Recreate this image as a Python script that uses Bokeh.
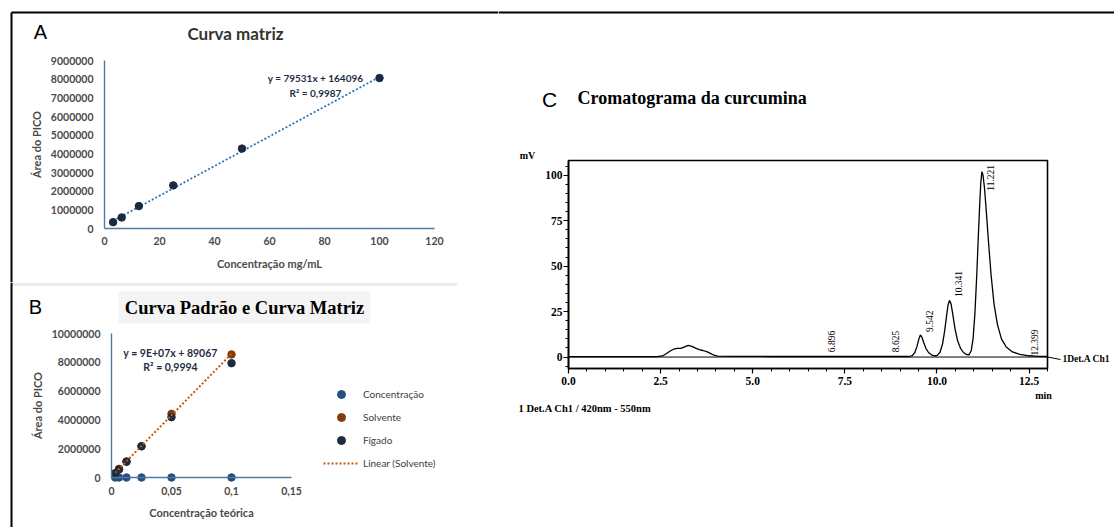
from math import pi
import numpy as np
from bokeh.plotting import figure
from bokeh.models import (Range1d, FixedTicker, Label, Legend, LegendItem, Arrow, BoxAnnotation,
                          NumeralTickFormatter, PrintfTickFormatter)
from bokeh.layouts import row, column
from bokeh.embed import file_html
from bokeh.resources import INLINE
from bokeh.core.properties import value

# ---------------- data: panel A (Curva matriz) ----------------
a_conc = [3.125, 6.25, 12.5, 25, 50, 100]
a_area = [340000, 590000, 1200000, 2310000, 4280000, 8060000]
a_slope = 79531
a_intercept = 164096
a_eq_text = "y = 79531x + 164096"
a_r2_text = "R² = 0,9987"
a_x_ticks = [0, 20, 40, 60, 80, 100, 120]
a_y_ticks = [0, 1000000, 2000000, 3000000, 4000000, 5000000, 6000000, 7000000, 8000000, 9000000]

# ---------------- data: panel B (Curva padrão e curva matriz) ----------------
b_conc = [0.003125, 0.00625, 0.0125, 0.025, 0.05, 0.1]
b_concentracao = [0.003125, 0.00625, 0.0125, 0.025, 0.05, 0.1]
b_solvente = [300000, 600000, 1110000, 2170000, 4420000, 8550000]
b_figado = [280000, 560000, 1100000, 2170000, 4190000, 7940000]
b_eq_text = "y = 9E+07x + 89067"
b_r2_text = "R² = 0,9994"
b_x_ticks = [0, 0.05, 0.1, 0.15]
b_x_labels = ["0", "0,05", "0,1", "0,15"]
b_y_ticks = [0, 2000000, 4000000, 6000000, 8000000, 10000000]
b_series_names = ["Concentração", "Solvente", "Fígado", "Linear (Solvente)"]

# ---------------- data: panel C (cromatograma) ----------------
c_time = [0.0, 2.40, 2.55, 2.65, 2.75, 2.85, 2.95, 3.05, 3.15, 3.25, 3.35, 3.45, 3.55,
          3.65, 3.75, 3.85, 3.95, 4.05, 4.50, 5.50, 6.50, 7.50, 8.50, 9.25, 9.33, 9.40,
          9.46, 9.51, 9.55, 9.59, 9.64, 9.70, 9.77, 9.85, 9.93, 10.00, 10.08, 10.15,
          10.21, 10.26, 10.30, 10.34, 10.38, 10.43, 10.49, 10.56, 10.64, 10.72, 10.80,
          10.87, 10.93, 10.98, 11.03, 11.08, 11.12, 11.16, 11.19, 11.22, 11.25, 11.29,
          11.34, 11.40, 11.47, 11.55, 11.64, 11.75, 11.88, 12.05, 12.25, 12.50, 12.75, 13.0]
c_signal = [0.2, 0.2, 0.6, 1.8, 3.2, 4.3, 4.8, 4.8, 5.6, 6.4, 5.9, 4.9, 4.1,
            3.6, 3.0, 2.0, 1.0, 0.5, 0.4, 0.3, 0.3, 0.3, 0.3, 0.3, 0.8, 2.5,
            6.0, 10.0, 12.2, 11.0, 8.0, 4.8, 2.5, 1.2, 0.7, 0.8, 2.5, 7.0,
            14.5, 22.5, 28.5, 31.2, 29.5, 23.5, 15.5, 9.0, 4.8, 2.5, 1.4,
            1.2, 3.5, 10.0, 24.0, 45.0, 65.0, 84.0, 96.0, 102.0, 100.0, 93.0,
            80.0, 63.0, 45.0, 29.0, 18.0, 10.0, 5.5, 2.8, 1.5, 0.7, 0.4, 0.3]
c_baseline_time = [0.0, 13.0]
c_baseline_signal = [0.0, 0.0]
c_peak_rt = [6.896, 8.625, 9.542, 10.341, 11.221, 12.399]
c_peak_labels = ["6.896", "8.625", "9.542", "10.341", "11.221", "12.399"]
c_peak_label_y = [2.7, 2.7, 13.8, 33.0, 91.5, 0.8]
c_x_ticks = [0, 2.5, 5.0, 7.5, 10.0, 12.5]
c_x_minor = [0.5 * i for i in range(27)]
c_y_ticks = [0, 25, 50, 75, 100]
c_y_minor = [5 * i for i in range(-1, 22)]
c_x_limits = (0.0, 13.0)
c_y_limits = (-6.3, 108.1)


# ---------------- helpers ----------------
def make_fig(canvas, frame, xlim, ylim):
    """Figure whose drawing area is the whole canvas; the data box (xlim, ylim)
    is placed at page pixels `frame` = (L, R, T, B)."""
    cx0, cx1, cy0, cy1 = canvas
    L, R, T, B = frame
    x0, x1 = xlim
    y0, y1 = ylim
    xs = (x1 - x0) / (R - L)
    ys = (y1 - y0) / (B - T)
    p = figure(width=cx1 - cx0, height=cy1 - cy0,
               x_range=Range1d(x0 - (L - cx0) * xs, x1 + (cx1 - R) * xs),
               y_range=Range1d(y0 - (cy1 - B) * ys, y1 + (T - cy0) * ys),
               output_backend="svg", toolbar_location=None,
               min_border_left=0, min_border_right=0, min_border_top=0, min_border_bottom=0)
    p.outline_line_color = None
    p.xgrid.grid_line_color = None
    p.ygrid.grid_line_color = None
    p.xaxis.fixed_location = y0
    p.xaxis.bounds = (x0, x1)
    p.yaxis.fixed_location = x0
    p.yaxis.bounds = (y0, y1)

    def f(px, py):
        return x0 + (px - L) * xs, y0 + (B - py) * ys
    return p, f


def add_text(p, f, px, py, text, size, font, color, style="normal", align="center", **kw):
    x, y = f(px, py)
    p.add_layout(Label(x=x, y=y, text=text, text_align=align, text_baseline="middle",
                       text_font=font, text_font_size=size, text_color=color,
                       text_font_style=style, **kw))


def add_seg(p, f, px0, py0, px1, py1, color="black", width=2):
    x0, y0 = f(px0, py0)
    x1, y1 = f(px1, py1)
    p.add_layout(Arrow(end=None, x_start=x0, y_start=y0, x_end=x1, y_end=y1,
                       line_color=color, line_width=width))


def excel_axes(p, axis_color="#4f7aa3"):
    for ax in (p.xaxis[0], p.yaxis[0]):
        ax.axis_line_color = axis_color
        ax.axis_line_width = 1.4
        ax.major_tick_line_color = None
        ax.minor_tick_line_color = None
        ax.major_tick_out = 0
        ax.major_tick_in = 0
        ax.major_label_text_font = "Lato"
        ax.major_label_text_font_style = "bold"
        ax.major_label_text_font_size = "10.5px"
        ax.major_label_text_color = "#4a4a4a"
        ax.axis_label_text_font = "Lato"
        ax.axis_label_text_font_style = "bold"
        ax.axis_label_text_font_size = "11px"
        ax.axis_label_text_color = "#4a4a4a"


NAVY = "#1f2d44"

# ================= Panel A =================
pA, fA = make_fig((0, 498, 0, 282), (104, 434, 60, 228), (0, 120), (0, 9000000))
excel_axes(pA)
pA.xaxis.ticker = FixedTicker(ticks=a_x_ticks)
pA.yaxis.ticker = FixedTicker(ticks=a_y_ticks)
pA.yaxis.formatter = NumeralTickFormatter(format="0")
pA.xaxis.axis_label = "Concentração mg/mL"
pA.yaxis.axis_label = "Área do PICO"
pA.xaxis.major_label_standoff = 8
pA.xaxis.axis_label_standoff = 9
pA.yaxis.major_label_standoff = 11
pA.yaxis.axis_label_standoff = 5

a_fit_x = [min(a_conc), max(a_conc)]
a_fit_y = [a_slope * x + a_intercept for x in a_fit_x]
pA.line(a_fit_x, a_fit_y, line_color="#2e75b6", line_width=1.8, line_dash="2 2")
pA.scatter(a_conc, a_area, size=7.5, fill_color="#1b2a41", line_color="#1b2a41")

add_text(pA, fA, 40, 31, "A", "20px", "Liberation Sans", "black")
add_text(pA, fA, 235, 33, "Curva matriz", "17px", "Lato", "#333333", style="bold")
add_text(pA, fA, 315, 77.5, a_eq_text, "10px", "Lato", NAVY, style="bold")
add_text(pA, fA, 315, 92, a_r2_text, "10px", "Lato", NAVY, style="bold")
add_seg(pA, fA, 11, 12, 498, 12)
add_seg(pA, fA, 11, 12, 11, 282)

# ================= Panel B =================
pB, fB = make_fig((0, 498, 282, 527), (111, 291, 333, 477), (0, 0.15), (0, 10000000))
excel_axes(pB)
pB.xaxis.ticker = FixedTicker(ticks=b_x_ticks)
pB.xaxis.major_label_overrides = {t: s for t, s in zip(b_x_ticks, b_x_labels)}
pB.yaxis.ticker = FixedTicker(ticks=b_y_ticks)
pB.yaxis.formatter = NumeralTickFormatter(format="0")
pB.xaxis.axis_label = "Concentração teórica"
pB.yaxis.axis_label = "Área do PICO"
pB.xaxis.major_label_standoff = 9
pB.xaxis.axis_label_standoff = 8
pB.yaxis.major_label_standoff = 11
pB.yaxis.axis_label_standoff = 5

rc = pB.scatter(b_conc, b_concentracao, size=7.5, fill_color="#264d7e", line_color="#264d7e")
rs = pB.scatter(b_conc, b_solvente, size=7.5, fill_color="#843c0c", line_color="#843c0c")
rf = pB.scatter(b_conc, b_figado, size=7.5, fill_color="#1c2b3d", line_color="#1c2b3d")
b_slope, b_intercept = np.polyfit(b_conc, b_solvente, 1)
b_fit_x = [min(b_conc), max(b_conc)]
b_fit_y = [b_slope * x + b_intercept for x in b_fit_x]
rl = pB.line(b_fit_x, b_fit_y, line_color="#c55a11", line_width=2, line_dash="2 2")

legB = Legend(items=[LegendItem(label=b_series_names[0], renderers=[rc]),
                     LegendItem(label=b_series_names[1], renderers=[rs]),
                     LegendItem(label=b_series_names[2], renderers=[rf]),
                     LegendItem(label=b_series_names[3], renderers=[rl])],
              location=(323, 54), glyph_width=36, glyph_height=20, label_height=20,
              spacing=3, label_standoff=4, padding=0, margin=0,
              border_line_color=None, background_fill_alpha=0,
              label_text_font="Lato", label_text_font_size="10px",
              label_text_color="#404040")
pB.add_layout(legB)

add_seg(pB, fB, 11, 284, 457, 284, color="#ececec", width=3)
add_seg(pB, fB, 11, 282, 11, 527)
add_text(pB, fB, 35, 306, "B", "20px", "Liberation Sans", "black")
add_text(pB, fB, 244, 307, "Curva Padrão e Curva Matriz", "18.5px", "Liberation Serif",
         "black", style="bold", background_fill_color="#f4f4f4", padding=6)
add_text(pB, fB, 170, 352.5, b_eq_text, "10.5px", "Lato", NAVY, style="bold")
add_text(pB, fB, 170, 366.5, b_r2_text, "10.5px", "Lato", NAVY, style="bold")

# ================= Panel C =================
pC, fC = make_fig((498, 1114, 0, 527), (568, 1047, 160, 368), c_x_limits, c_y_limits)
for ax in (pC.xaxis[0], pC.yaxis[0]):
    ax.axis_line_color = "black"
    ax.axis_line_width = 1.6
    ax.major_tick_line_color = "black"
    ax.minor_tick_line_color = "black"
    ax.major_tick_line_width = 1.2
    ax.minor_tick_line_width = 1.0
    ax.major_tick_out = 5
    ax.minor_tick_out = 3
    ax.major_tick_in = 0
    ax.minor_tick_in = 0
    ax.major_label_text_font = "Liberation Serif"
    ax.major_label_text_font_size = "11.5px"
    ax.major_label_text_font_style = "bold"
    ax.major_label_text_color = "black"
pC.xaxis.ticker = FixedTicker(ticks=c_x_ticks, minor_ticks=c_x_minor)
pC.yaxis.ticker = FixedTicker(ticks=c_y_ticks, minor_ticks=c_y_minor)
pC.xaxis.formatter = PrintfTickFormatter(format="%.1f")
pC.yaxis.formatter = PrintfTickFormatter(format="%d")
pC.xaxis.major_label_standoff = 3
pC.yaxis.major_label_standoff = 1
pC.add_layout(BoxAnnotation(left=c_x_limits[0], right=c_x_limits[1],
                            bottom=c_y_limits[0], top=c_y_limits[1],
                            fill_alpha=0, line_color="black", line_width=1.6, line_alpha=1))

pC.line(c_baseline_time, c_baseline_signal, line_color="black", line_width=1.0)
pC.line(c_time, c_signal, line_color="black", line_width=1.3)
pC.text(x=c_peak_rt, y=c_peak_label_y, text=c_peak_labels, angle=pi / 2,
        text_align="left", text_baseline="middle", x_offset=9,
        text_font=value("Liberation Serif"), text_font_size="9.5px", text_color="black")

add_seg(pC, fC, 498, 12, 1114, 12)
add_text(pC, fC, 549, 99, "C", "21px", "Liberation Sans", "black")
add_text(pC, fC, 577, 97, "Cromatograma da curcumina", "18px", "Liberation Serif", "black",
         style="bold", align="left")
add_text(pC, fC, 527, 155, "mV", "10px", "Liberation Serif", "black", style="bold")
add_text(pC, fC, 1043, 395, "min", "10px", "Liberation Serif", "black", style="bold")
add_text(pC, fC, 518, 408, "1 Det.A Ch1 / 420nm - 550nm", "10.5px", "Liberation Serif", "black",
         style="bold", align="left")
add_seg(pC, fC, 1047, 356.5, 1060, 359, width=1)
add_text(pC, fC, 1062, 358, "1Det.A Ch1", "9.5px", "Liberation Serif", "black",
         style="bold", align="left")

layout = row(column(pA, pB), pC)
open("out.html", "w").write(file_html(layout, INLINE))
